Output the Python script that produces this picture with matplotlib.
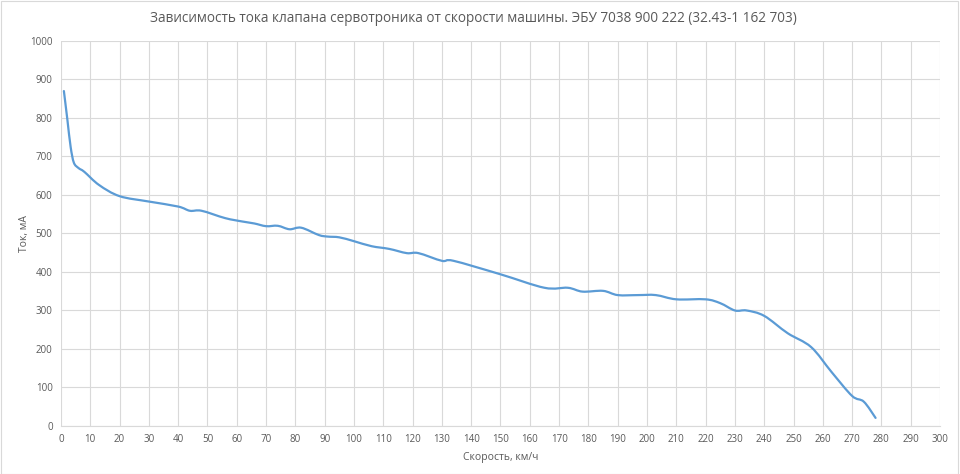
import matplotlib
matplotlib.use("Agg")
import matplotlib.pyplot as plt
from matplotlib.patches import Rectangle, PathPatch
from matplotlib.path import Path

TITLE = "Зависимость тока клапана сервотроника от скорости машины. ЭБУ 7038 900 222 (32.43-1 162 703)"
X_LABEL = "Скорость, км/ч"
Y_LABEL = "Ток, мА"

speed = [1, 2.2, 3.3, 4.4, 6, 8, 13, 20, 30, 40, 44, 48, 56, 62, 66, 70, 74,
         78, 82, 88, 91, 95, 100, 106, 112, 118, 122, 130, 134, 150, 165, 173,
         178, 185, 190, 197, 203, 210, 220, 225, 230, 234, 240, 248, 256, 263,
         270, 274, 278]
current = [870, 795, 725, 684, 670, 660, 626, 597, 583, 570, 559, 559, 540, 531,
           526, 519, 520, 511, 515, 496, 492, 490, 480, 467, 460, 449, 449, 429,
           429, 394, 359, 359, 349, 351, 340, 340, 340, 329, 329, 319, 300, 300,
           286, 241, 205, 140, 78, 63, 21]

x_ticks = list(range(0, 301, 10))
y_ticks = list(range(0, 1001, 100))

TEXT = "#595959"
GRID = "#d9d9d9"
LINE = "#5b9bd5"


def smooth_path(xs, ys):
    # excel-like smoothed line: catmull-rom segments as cubic beziers
    pts = list(zip(xs, ys))
    verts = [pts[0]]
    codes = [Path.MOVETO]
    n = len(pts)
    for i in range(n - 1):
        p0 = pts[max(i - 1, 0)]
        p1 = pts[i]
        p2 = pts[i + 1]
        p3 = pts[min(i + 2, n - 1)]
        c1 = (p1[0] + (p2[0] - p0[0]) / 6, p1[1] + (p2[1] - p0[1]) / 6)
        c2 = (p2[0] - (p3[0] - p1[0]) / 6, p2[1] - (p3[1] - p1[1]) / 6)
        verts += [c1, c2, p2]
        codes += [Path.CURVE4] * 3
    return Path(verts, codes)


plt.rcParams["font.family"] = ["Open Sans", "DejaVu Sans"]

fig = plt.figure(figsize=(9.6, 4.74), dpi=100)
ax = fig.add_axes([0.0635, 0.1013, 0.9157, 0.8122])

ax.add_patch(PathPatch(smooth_path(speed, current), fill=False, edgecolor=LINE,
                       lw=1.6, joinstyle="round", capstyle="round"))

ax.set_xlim(0, 300)
ax.set_ylim(0, 1000)
ax.set_xticks(x_ticks)
ax.set_yticks(y_ticks)
ax.tick_params(length=0, labelsize=7, colors=TEXT, pad=6)
ax.grid(color=GRID, lw=0.8)
ax.set_axisbelow(True)
for side in ["top", "right", "left"]:
    ax.spines[side].set_visible(False)
ax.spines["bottom"].set_color(GRID)

ax.set_xlabel(X_LABEL, fontsize=7.5, color=TEXT, labelpad=5)
ax.set_ylabel(Y_LABEL, fontsize=7.5, color=TEXT, labelpad=0)
fig.text(0.493, 0.962, TITLE, ha="center", va="center", fontsize=9.8, color=TEXT)

# light chart border
fig.patches.append(Rectangle((0.001, 0.001), 0.997, 0.996, transform=fig.transFigure,
                             fill=False, edgecolor=GRID, lw=0.8))

fig.savefig("out.png", dpi=100)
